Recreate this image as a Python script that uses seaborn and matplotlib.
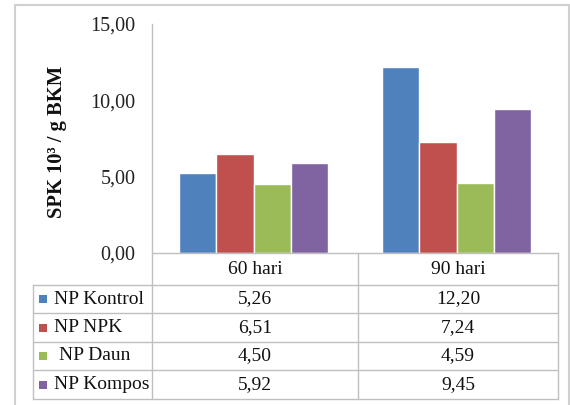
import matplotlib
matplotlib.use("Agg")
import matplotlib.pyplot as plt
from matplotlib.lines import Line2D
from matplotlib.patches import Rectangle
from matplotlib.ticker import FuncFormatter
import seaborn as sns
import pandas as pd

# Data
categories = ["60 hari", "90 hari"]
series_names = ["NP Kontrol", "NP NPK", "NP Daun", "NP Kompos"]
np_kontrol = [5.26, 12.20]
np_npk = [6.51, 7.24]
np_daun = [4.50, 4.59]
np_kompos = [5.92, 9.45]
y_ticks = [0, 5, 10, 15]
y_label = "SPK 10³ / g BKM"

colors = ["#4F81BD", "#C0504D", "#9BBB59", "#8064A2"]

series_values = [np_kontrol, np_npk, np_daun, np_kompos]
rows = []
for name, vals in zip(series_names, series_values):
    for cat, v in zip(categories, vals):
        rows.append({"Waktu": cat, "Perlakuan": name, "SPK": v})
df = pd.DataFrame(rows)

sns.set_theme(style="white")
plt.rcParams["font.family"] = ["Liberation Serif", "DejaVu Serif"]

W, H = 570, 405
fig = plt.figure(figsize=(W / 100, H / 100), dpi=100)


def fx(x):
    return x / W


def fy(y):
    return 1 - y / H


# plot area in pixel coordinates
ax_left, ax_right, ax_top, ax_bottom = 152, 558, 24, 253
ax = fig.add_axes([fx(ax_left), fy(ax_bottom), fx(ax_right) - fx(ax_left), fy(ax_top) - fy(ax_bottom)])

sns.barplot(data=df, x="Waktu", y="SPK", hue="Perlakuan", order=categories,
            hue_order=series_names, palette=colors, width=0.73, gap=0,
            saturation=1, errorbar=None, legend=False, ax=ax)

ax.set_ylim(0, 15)
ax.set_xlim(-0.5, 1.5)
ax.set_yticks(y_ticks)
ax.yaxis.set_major_formatter(FuncFormatter(lambda v, p: f"{v:.2f}".replace(".", ",")))
ax.tick_params(axis="y", length=0, pad=12, labelsize=14.5, labelcolor="#222222")
ax.set_xticks([])
ax.set_xlabel("")
ax.set_ylabel("")
for side in ["top", "right", "bottom"]:
    ax.spines[side].set_visible(False)
ax.spines["left"].set_color("#BFBFBF")
ax.spines["left"].set_linewidth(1.0)

fig.text(fx(57), fy(142), y_label, rotation=90, ha="center", va="center",
         fontsize=14.8, fontweight="bold", color="#111111")

# data table under the bars
grid_color = "#BFBFBF"
lw = 1.0


def hline(x0, x1, y):
    fig.add_artist(Line2D([fx(x0), fx(x1)], [fy(y), fy(y)], color=grid_color, lw=lw,
                          transform=fig.transFigure))


def vline(x, y0, y1):
    fig.add_artist(Line2D([fx(x), fx(x)], [fy(y0), fy(y1)], color=grid_color, lw=lw,
                          transform=fig.transFigure))


label_left = 33
col_edges = [ax_left, 358, ax_right]
row_edges = [253, 285, 313, 342, 370, 399]

hline(ax_left, ax_right, row_edges[0])
for y in row_edges[1:]:
    hline(label_left, ax_right, y)
vline(label_left, row_edges[1], row_edges[-1])
for x in col_edges:
    vline(x, row_edges[0], row_edges[-1])

for i, cat in enumerate(categories):
    cx = (col_edges[i] + col_edges[i + 1]) / 2
    cy = (row_edges[0] + row_edges[1]) / 2
    fig.text(fx(cx), fy(cy), cat, ha="center", va="center", fontsize=14, color="#111111")

for r, (name, vals, c) in enumerate(zip(series_names, series_values, colors)):
    cy = (row_edges[r + 1] + row_edges[r + 2]) / 2
    fig.add_artist(Rectangle((fx(39), fy(cy + 4)), fx(8), 8 / H, facecolor=c,
                             edgecolor="none", transform=fig.transFigure))
    tx = 59 if name == "NP Daun" else 54
    fig.text(fx(tx), fy(cy), name, ha="left", va="center", fontsize=14, color="#111111")
    for i, v in enumerate(vals):
        cx = (col_edges[i] + col_edges[i + 1]) / 2
        fig.text(fx(cx), fy(cy), f"{v:.2f}".replace(".", ","), ha="center", va="center",
                 fontsize=14, color="#111111")

# chart frame
fig.add_artist(Rectangle((fx(15), fy(420)), fx(569) - fx(15), fy(5) - fy(420),
                         facecolor="none", edgecolor="#D0D0D0", lw=1.5,
                         transform=fig.transFigure, clip_on=False))

fig.savefig("out.png", dpi=100)
